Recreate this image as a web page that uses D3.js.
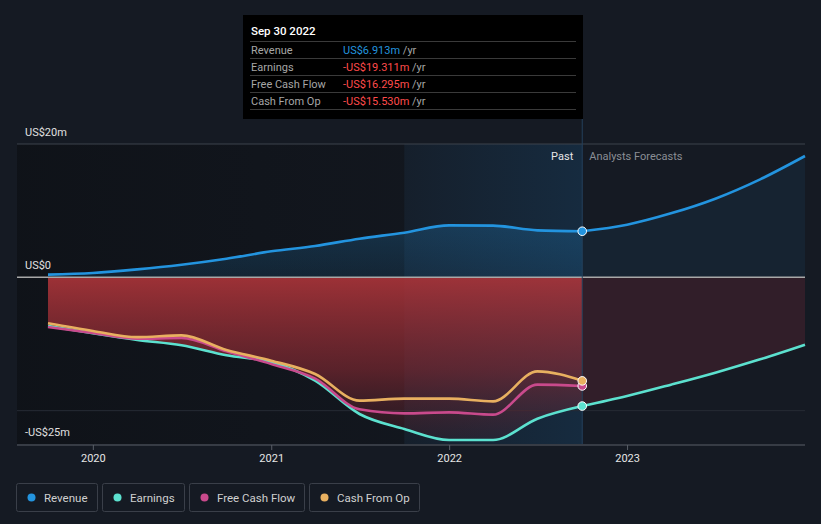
<!DOCTYPE html>
<html>
<head>
<meta charset="utf-8">
<script src="https://cdn.jsdelivr.net/npm/d3@7"></script>
<style>
  html, body { margin: 0; padding: 0; background: #151a23; }
  svg { display: block; font-family: Roboto, "Noto Sans", sans-serif; }
</style>
</head>
<body>
<svg id="chart" width="821" height="524"></svg>
<script>
// ---- data (US$ millions) ----
const pastDates = ["2019-09-30","2019-12-31","2020-03-31","2020-06-30","2020-09-30","2020-12-31","2021-03-31","2021-06-30","2021-09-30","2021-12-31","2022-03-31","2022-06-30","2022-09-30"];
const revenue   = [0.4, 0.65, 1.2, 1.9, 2.8, 3.9, 4.7, 5.8, 6.7, 7.8, 7.75, 7.05, 6.913];
const earnings  = [-7.3, -8.4, -9.4, -10.2, -11.7, -12.7, -15.5, -20.5, -22.75, -24.4, -24.4, -21.2, -19.311];
const freeCashFlow = [-7.45, -8.35, -9.2, -9.1, -11.1, -13.0, -15.2, -19.8, -20.4, -20.25, -20.6, -16.1, -16.295];
const cashFromOp   = [-6.9, -8.05, -8.97, -8.7, -10.9, -12.5, -14.5, -18.5, -18.2, -18.2, -18.6, -14.1, -15.53];

const forecastDates = ["2022-09-30","2022-12-31","2023-03-31","2023-06-30","2023-09-30","2023-12-31"];
const revenueForecast  = [6.913, 7.9, 9.6, 11.8, 14.7, 18.2];
const earningsForecast = [-19.311, -17.8, -16.1, -14.3, -12.3, -10.1];

const yTickValues = [20, 0, -25];
const yTickLabels = ["US$20m", "US$0", "-US$25m"];
const yGridExtra = [-20];
const xTickYears = ["2020","2021","2022","2023"];

const seriesNames  = ["Revenue","Earnings","Free Cash Flow","Cash From Op"];
const seriesColors = ["#2394df","#5ce1cf","#c94a8c","#e8b060"];

const tooltipTitle = "Sep 30 2022";
const tooltipValues = ["US$6.913m","-US$19.311m","-US$16.295m","-US$15.530m"];
const highlightStart = "2021-09-30";

// ---- setup ----
const svg = d3.select("#chart");
const parse = d3.timeParse("%Y-%m-%d");
const plotL = 17, plotR = 805, plotT = 144, plotB = 444;

const x = d3.scaleTime()
  .domain([parse("2019-09-30"), parse("2023-12-31")])
  .range([48, 805]);
const y = d3.scaleLinear().domain([-25, 20]).range([plotB, plotT]);

const past = pastDates.map((d, i) => ({
  date: parse(d), rev: revenue[i], earn: earnings[i], fcf: freeCashFlow[i], cfo: cashFromOp[i]
}));
const fut = forecastDates.map((d, i) => ({
  date: parse(d), rev: revenueForecast[i], earn: earningsForecast[i]
}));

const xNow = x(parse("2022-09-30"));
const xHi = x(parse(highlightStart));

const defs = svg.append("defs");

const gPast = defs.append("linearGradient").attr("id","pastBg").attr("x1","0").attr("x2","1").attr("y1","0").attr("y2","0");
gPast.append("stop").attr("offset","0").attr("stop-color","#0d1015").attr("stop-opacity",0.75);
gPast.append("stop").attr("offset","1").attr("stop-color","#0d1015").attr("stop-opacity",0.35);

const gHi = defs.append("linearGradient").attr("id","hiBg").attr("x1","0").attr("x2","1").attr("y1","0").attr("y2","0");
gHi.append("stop").attr("offset","0").attr("stop-color","#1a6fb0").attr("stop-opacity",0.06);
gHi.append("stop").attr("offset","1").attr("stop-color","#1a6fb0").attr("stop-opacity",0.2);

const gRev = defs.append("linearGradient").attr("id","revFill").attr("x1","0").attr("x2","0").attr("y1","0").attr("y2","1");
gRev.append("stop").attr("offset","0").attr("stop-color","#2394df").attr("stop-opacity",0.22);
gRev.append("stop").attr("offset","1").attr("stop-color","#2394df").attr("stop-opacity",0.12);

const gNeg = defs.append("linearGradient").attr("id","negFill")
  .attr("gradientUnits","userSpaceOnUse").attr("x1",0).attr("x2",0).attr("y1",y(0)).attr("y2",y(-25));
gNeg.append("stop").attr("offset","0").attr("stop-color","#b0353a").attr("stop-opacity",0.88);
gNeg.append("stop").attr("offset","0.55").attr("stop-color","#8a2a33").attr("stop-opacity",0.6);
gNeg.append("stop").attr("offset","1").attr("stop-color","#6a2430").attr("stop-opacity",0.15);

svg.append("rect").attr("x", plotL).attr("y", plotT).attr("width", xHi - plotL).attr("height", plotB - plotT)
  .attr("fill","url(#pastBg)");
svg.append("rect").attr("x", xHi).attr("y", plotT).attr("width", xNow - xHi).attr("height", plotB - plotT)
  .attr("fill","url(#hiBg)");

// grid lines
svg.append("line").attr("x1",plotL).attr("x2",plotR).attr("y1",y(20)).attr("y2",y(20))
  .attr("stroke","#3c424c").attr("stroke-width",1);
yGridExtra.forEach(v => {
  svg.append("line").attr("x1",plotL).attr("x2",plotR).attr("y1",y(v)).attr("y2",y(v))
    .attr("stroke","#262b35").attr("stroke-width",1);
});

// areas
const curve = d3.curveMonotoneX;
const areaRev = d3.area().curve(curve).x(d => x(d.date)).y0(y(0)).y1(d => y(d.rev));
const areaEarn = d3.area().curve(curve).x(d => x(d.date)).y0(y(0)).y1(d => y(d.earn));

svg.append("path").datum(past).attr("d", areaRev).attr("fill","url(#revFill)");
svg.append("path").datum(fut).attr("d", areaRev).attr("fill","#2394df").attr("fill-opacity",0.08);
svg.append("path").datum(past).attr("d", areaEarn).attr("fill","url(#negFill)");
svg.append("path").datum(fut).attr("d", areaEarn).attr("fill","#7a2a3a").attr("fill-opacity",0.28);

// zero line
svg.append("line").attr("x1",plotL).attr("x2",plotR).attr("y1",y(0)).attr("y2",y(0))
  .attr("stroke","#a8a8a8").attr("stroke-width",1.5);

// "now" vertical line
svg.append("line").attr("x1",xNow).attr("x2",xNow).attr("y1",118).attr("y2",plotB)
  .attr("stroke","#24415c").attr("stroke-width",1);

// lines
const line = key => d3.line().curve(curve).x(d => x(d.date)).y(d => y(d[key]));
const lw = 2.6;
svg.append("path").datum(past).attr("d", line("earn")).attr("fill","none").attr("stroke",seriesColors[1]).attr("stroke-width",lw);
svg.append("path").datum(fut).attr("d", line("earn")).attr("fill","none").attr("stroke",seriesColors[1]).attr("stroke-width",lw);
svg.append("path").datum(past).attr("d", line("fcf")).attr("fill","none").attr("stroke",seriesColors[2]).attr("stroke-width",lw);
svg.append("path").datum(past).attr("d", line("cfo")).attr("fill","none").attr("stroke",seriesColors[3]).attr("stroke-width",lw);
svg.append("path").datum(past).attr("d", line("rev")).attr("fill","none").attr("stroke",seriesColors[0]).attr("stroke-width",lw);
svg.append("path").datum(fut).attr("d", line("rev")).attr("fill","none").attr("stroke",seriesColors[0]).attr("stroke-width",lw);

// dots at current point
const last = past[past.length - 1];
[["earn",1],["fcf",2],["cfo",3],["rev",0]].forEach(([k,i]) => {
  svg.append("circle").attr("cx", x(last.date)).attr("cy", y(last[k])).attr("r",4.3)
    .attr("fill", seriesColors[i]).attr("stroke","#ffffff").attr("stroke-width",1);
});

// y labels
yTickValues.forEach((v, i) => {
  svg.append("text").attr("x", 25).attr("y", y(v) - 8).attr("fill","#e0e0e0")
    .attr("font-size",11).text(yTickLabels[i]);
});

// x axis
svg.append("line").attr("x1",plotL).attr("x2",plotR).attr("y1",plotB+1).attr("y2",plotB+1)
  .attr("stroke","#5a5f68").attr("stroke-width",1);
xTickYears.forEach(yr => {
  const xx = x(parse(yr + "-01-01"));
  svg.append("line").attr("x1",xx).attr("x2",xx).attr("y1",plotB+1).attr("y2",plotB+6)
    .attr("stroke","#5a5f68");
  svg.append("text").attr("x",xx).attr("y",462).attr("text-anchor","middle")
    .attr("fill","#e6e6e6").attr("font-size",11).text(yr);
});

// past / forecast labels
svg.append("text").attr("x", xNow - 9).attr("y", 160).attr("text-anchor","end")
  .attr("fill","#e6e6e6").attr("font-size",11).text("Past");
svg.append("text").attr("x", xNow + 7).attr("y", 160)
  .attr("fill","#8a8e95").attr("font-size",11).text("Analysts Forecasts");

// tooltip
const tt = svg.append("g");
tt.append("rect").attr("x",243).attr("y",15).attr("width",340).attr("height",104).attr("fill","#000000");
tt.append("text").attr("x",251).attr("y",35).attr("fill","#ffffff").attr("font-size",11.5)
  .attr("font-weight",500).text(tooltipTitle);
const rowY = [41, 58, 75, 92];
rowY.forEach((ry, i) => {
  tt.append("line").attr("x1",250).attr("x2",576).attr("y1",ry+0.5).attr("y2",ry+0.5)
    .attr("stroke","#3a3a3a");
  tt.append("text").attr("x",251).attr("y",ry+13).attr("fill","#a6a6a6").attr("font-size",11)
    .text(seriesNames[i]);
  const t = tt.append("text").attr("x",343).attr("y",ry+13).attr("font-size",11);
  t.append("tspan").attr("fill", i === 0 ? "#2394df" : "#ff4b4b").text(tooltipValues[i]);
  t.append("tspan").attr("fill","#a6a6a6").text(" /yr");
});
tt.append("line").attr("x1",250).attr("x2",576).attr("y1",109.5).attr("y2",109.5).attr("stroke","#3a3a3a");

// legend
const legX = [16, 102, 189, 309];
const legW = [81, 82, 115, 110];
seriesNames.forEach((n, i) => {
  const g = svg.append("g").attr("transform", `translate(${legX[i]},483)`);
  g.append("rect").attr("x",0.5).attr("y",0.5).attr("width",legW[i]).attr("height",28).attr("rx",2)
    .attr("fill","none").attr("stroke","#3a3f49");
  g.append("circle").attr("cx",15.5).attr("cy",14.5).attr("r",4).attr("fill",seriesColors[i]);
  g.append("text").attr("x",28).attr("y",18.5).attr("fill","#d0d0d0").attr("font-size",11.5).text(n);
});
</script>
</body>
</html>
